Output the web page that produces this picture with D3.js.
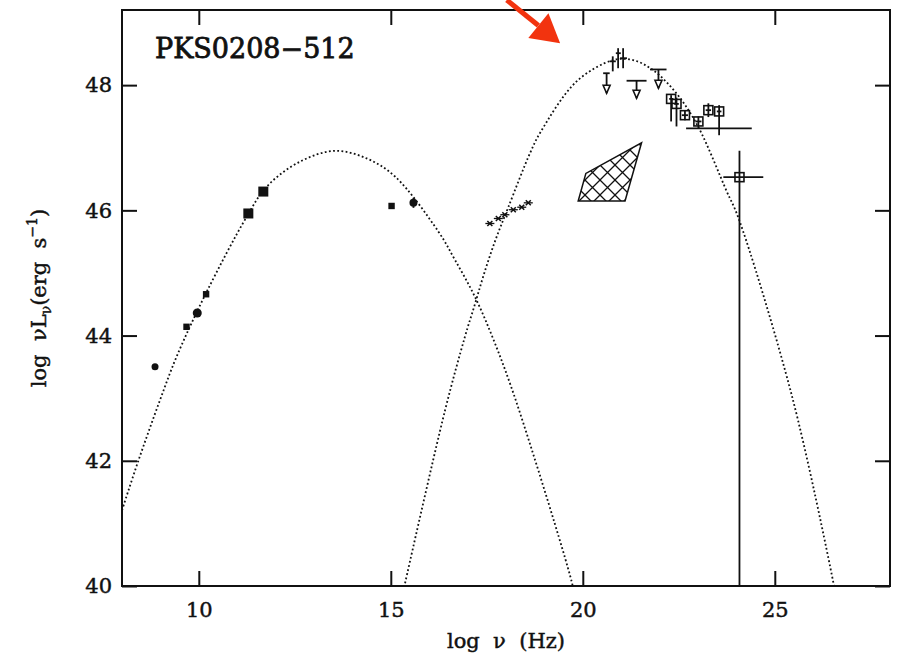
<!DOCTYPE html>
<html>
<head>
<meta charset="UTF-8">
<title>PKS0208-512</title>
<style>
    body { margin: 0; background: white; }
    svg text { font-family: "DejaVu Serif", serif; fill: #111; stroke: #111; stroke-width: 0.45px; }
    .lbl { white-space: pre; }
</style>
</head>
<body>
<svg width="907" height="654"></svg>
<script src="https://d3js.org/d3.v7.min.js"></script>
<script>
    // axis ticks, log nu (Hz) and log nuL_nu (erg/s)
    let xTicks = [10, 15, 20, 25]
    let yTicks = [40, 42, 44, 46, 48]

    // synchrotron model curve (dotted)
    let syncCurveNu = [8.0, 8.42, 8.99, 9.42, 10.19, 11.25, 11.77, 12.64, 13.55, 14.37, 15.11, 16.24, 16.67, 17.19, 17.71, 18.28, 19.71, 19.8]
    let syncCurveL = [41.21, 41.99, 42.97, 43.66, 44.68, 45.90, 46.38, 46.78, 46.95, 46.83, 46.54, 45.66, 45.21, 44.62, 43.88, 42.92, 40.07, 39.8]

    // inverse compton model curve (dotted)
    let icCurveNu = [15.3, 16.41, 16.93, 17.19, 17.41, 17.71, 18.06, 18.63, 18.89, 19.84, 20.79, 21.31, 21.83, 22.45, 23.0, 23.75, 24.04, 25.44, 26.52, 26.6]
    let icCurveL = [39.85, 42.80, 43.98, 44.50, 44.95, 45.50, 46.05, 46.92, 47.24, 48.06, 48.40, 48.40, 48.24, 47.86, 47.34, 46.30, 45.90, 43.05, 40.07, 39.8]

    // radio / IR / optical points
    let smallCircles = [[8.86, 43.50]]
    let bigCircles = [[9.96, 44.36]]
    let smallSquares = [[9.68, 44.14], [10.19, 44.66], [15.02, 46.07]]
    let bigSquares = [[11.29, 45.95], [11.68, 46.30]]
    // [nu, L, Llo, Lhi]
    let uvPoint = [[15.59, 46.12, 46.04, 46.20]]

    // X-ray spectrum
    let xrayNu = [17.58, 17.80, 17.97, 18.19, 18.41, 18.58]
    let xrayL = [45.79, 45.87, 45.93, 46.01, 46.05, 46.12]

    // COMPTEL hatched region
    let hatchNu = [19.88, 20.08, 21.53, 21.10]
    let hatchL = [46.15, 46.59, 47.08, 46.15]

    // gamma-ray detections [nu, L, nuLo, nuHi, Llo, Lhi]
    let gammaCrosses = [
        [20.78, 48.38, 20.70, 20.86, 48.22, 48.46],
        [20.92, 48.51, 20.86, 20.99, 48.27, 48.59],
        [21.05, 48.43, 20.97, 21.15, 48.27, 48.59]
    ]
    // upper limits [nu, L, nuLo, nuHi, Ltip]
    let upperLimits = [
        [20.62, 48.19, 20.53, 20.70, 47.87],
        [21.40, 48.07, 21.14, 21.66, 47.79],
        [21.97, 48.25, 21.75, 22.18, 47.95]
    ]
    // EGRET squares [nu, L, nuLo, nuHi, Llo, Lhi]
    let gammaSquares = [
        [22.30, 47.78, 22.25, 22.36, 47.42, 47.84],
        [22.44, 47.70, 22.38, 22.50, 47.34, 47.80],
        [22.66, 47.52, 22.58, 22.74, 47.44, 47.60],
        [23.01, 47.42, 22.93, 23.09, 47.32, 47.50],
        [23.27, 47.60, 23.20, 23.34, 47.49, 47.71],
        [23.55, 47.58, 23.49, 23.61, 47.20, 47.68],
        [24.08, 46.53, 23.66, 24.70, 39.5, 46.95]
    ]
    // wide band point, horizontal bar only [nu, L, nuLo, nuHi]
    let wideBand = [[23.55, 47.31, 22.69, 24.40]]

    // red annotation arrow [tail, tip]
    let arrowPts = [[18.02, 49.36], [19.41, 48.67]]

    let svg = d3.select("svg")
    let x = d3.scaleLinear().domain([8, 28]).range([122, 890])
    let y = d3.scaleLinear().domain([40, 49.2]).range([586, 10])

    svg.append("defs").append("clipPath").attr("id", "clip")
        .append("rect").attr("x", x(8)).attr("y", y(49.2))
        .attr("width", x(28) - x(8)).attr("height", y(40) - y(49.2))

    let hatch = svg.select("defs").append("pattern")
        .attr("id", "hatch").attr("patternUnits", "userSpaceOnUse")
        .attr("width", 15).attr("height", 15)
    hatch.append("path").attr("d", "M0,0L15,15M15,0L0,15M-1,14L1,16M14,-1L16,1")
        .attr("stroke", "#111").attr("stroke-width", 1.3)

    // minor tick values
    let xMinor = d3.range(9, 28).filter(v => !xTicks.includes(v))
    let yMinor = d3.range(1, 23).filter(i => i % 5 != 0).map(i => 40 + i * 0.4)

    function axis(gen, scale, major, minor, tr, labels) {
        let g = svg.append("g").attr("transform", tr)
        g.call(gen(scale).tickValues(minor).tickSizeInner(-6).tickSizeOuter(0).tickFormat(""))
        g.call(gen(scale).tickValues(major).tickSizeInner(-15).tickSizeOuter(0)
            .tickPadding(gen == d3.axisBottom ? 16 : 10)
            .tickFormat(labels ? d3.format("d") : ""))
        g.selectAll("line").attr("stroke-width", 2).attr("stroke", "#111")
        g.selectAll(".domain").remove()
        g.selectAll("text").style("font-size", "21px").attr("fill", "#111")
        return g
    }
    axis(d3.axisBottom, x, xTicks, xMinor, "translate(0," + y(40) + ")", true)
    axis(d3.axisTop, x, xTicks, xMinor, "translate(0," + y(49.2) + ")", false)
    axis(d3.axisLeft, y, yTicks, yMinor, "translate(" + x(8) + ",0)", true)
    axis(d3.axisRight, y, yTicks, yMinor, "translate(" + x(28) + ",0)", false)

    svg.append("rect")
        .attr("x", x(8)).attr("y", y(49.2))
        .attr("width", x(28) - x(8)).attr("height", y(40) - y(49.2))
        .attr("fill", "none").attr("stroke", "#111").attr("stroke-width", 2)

    let plot = svg.append("g").attr("clip-path", "url(#clip)")

    // model curves
    let line = d3.line().x(d => x(d[0])).y(d => y(d[1])).curve(d3.curveCatmullRom)
    let curves = [d3.zip(syncCurveNu, syncCurveL), d3.zip(icCurveNu, icCurveL)]
    plot.selectAll(".model").data(curves).enter().append("path")
        .attr("class", "model")
        .attr("d", line)
        .attr("fill", "none").attr("stroke", "#111")
        .attr("stroke-width", 1.8).attr("stroke-dasharray", "1.8 2.4")

    // hatched region
    plot.append("path")
        .attr("d", "M" + d3.zip(hatchNu, hatchL).map(d => x(d[0]) + "," + y(d[1])).join("L") + "Z")
        .attr("fill", "url(#hatch)").attr("stroke", "#111").attr("stroke-width", 1.5)

    // error bar helper
    function seg(g, x1, y1, x2, y2, w) {
        g.append("line").attr("x1", x1).attr("y1", y1).attr("x2", x2).attr("y2", y2)
            .attr("stroke", "#111").attr("stroke-width", w || 1.8)
    }

    // radio to optical points
    plot.selectAll(".sc").data(smallCircles).enter().append("circle")
        .attr("cx", d => x(d[0])).attr("cy", d => y(d[1])).attr("r", 3.5).attr("fill", "#111")
    plot.selectAll(".bc").data(bigCircles).enter().append("circle")
        .attr("cx", d => x(d[0])).attr("cy", d => y(d[1])).attr("r", 4.5).attr("fill", "#111")
    plot.selectAll(".ss").data(smallSquares).enter().append("rect")
        .attr("x", d => x(d[0]) - 3.2).attr("y", d => y(d[1]) - 3.2)
        .attr("width", 6.4).attr("height", 6.4).attr("fill", "#111")
    plot.selectAll(".bs").data(bigSquares).enter().append("rect")
        .attr("x", d => x(d[0]) - 5).attr("y", d => y(d[1]) - 5)
        .attr("width", 10).attr("height", 10).attr("fill", "#111")
    uvPoint.forEach(d => {
        seg(plot, x(d[0]), y(d[2]), x(d[0]), y(d[3]))
        plot.append("circle").attr("cx", x(d[0])).attr("cy", y(d[1])).attr("r", 4).attr("fill", "#111")
    })

    // x-ray points
    d3.zip(xrayNu, xrayL).forEach(d => {
        let px = x(d[0]), py = y(d[1])
        seg(plot, px - 2.5, py - 2.5, px + 2.5, py + 2.5, 1.5)
        seg(plot, px - 2.5, py + 2.5, px + 2.5, py - 2.5, 1.5)
        seg(plot, px - 4.5, py, px + 4.5, py, 1.3)
    })

    // gamma-ray crosses
    gammaCrosses.forEach(d => {
        seg(plot, x(d[2]), y(d[1]), x(d[3]), y(d[1]))
        seg(plot, x(d[0]), y(d[4]), x(d[0]), y(d[5]))
    })

    // upper limits
    upperLimits.forEach(d => {
        let px = x(d[0]), tip = y(d[4])
        seg(plot, x(d[2]), y(d[1]), x(d[3]), y(d[1]))
        seg(plot, px, y(d[1]), px, tip)
        plot.append("path")
            .attr("d", "M" + (px - 3.5) + "," + (tip - 8) + "L" + px + "," + tip + "L" + (px + 3.5) + "," + (tip - 8) + "Z")
            .attr("fill", "white").attr("stroke", "#111").attr("stroke-width", 1.6)
    })

    // wide band bar
    wideBand.forEach(d => seg(plot, x(d[2]), y(d[1]), x(d[3]), y(d[1])))

    // EGRET squares
    gammaSquares.forEach(d => {
        seg(plot, x(d[2]), y(d[1]), x(d[3]), y(d[1]))
        seg(plot, x(d[0]), y(d[4]), x(d[0]), y(d[5]))
        plot.append("rect").attr("x", x(d[0]) - 4.5).attr("y", y(d[1]) - 4.5)
            .attr("width", 9).attr("height", 9)
            .attr("fill", "none").attr("stroke", "#111").attr("stroke-width", 1.6)
    })

    // title
    svg.append("text").attr("x", 155).attr("y", 58)
        .style("font-size", "27px").style("stroke-width", "0.8px").text("PKS0208\u2212512")

    // axis labels
    svg.append("text").attr("class", "lbl")
        .attr("x", (x(8) + x(28)) / 2).attr("y", 648)
        .attr("text-anchor", "middle").style("font-size", "21px")
        .text("log  \u03bd  (Hz)")

    let yl = svg.append("text").attr("class", "lbl")
        .attr("transform", "translate(46," + (y(40) + y(49.2)) / 2 + ") rotate(-90)")
        .attr("text-anchor", "middle").style("font-size", "21px")
    yl.append("tspan").text("log  \u03bdL")
    yl.append("tspan").attr("dy", 5).style("font-size", "14px").text("\u03bd")
    yl.append("tspan").attr("dy", -5).text("(erg  s")
    yl.append("tspan").attr("dy", -9).style("font-size", "14px").text("\u22121")
    yl.append("tspan").attr("dy", 9).text(")")

    // red arrow annotation
    let tail = [x(arrowPts[0][0]), y(arrowPts[0][1])]
    let tip = [x(arrowPts[1][0]), y(arrowPts[1][1])]
    let dx = tip[0] - tail[0], dy = tip[1] - tail[1], len = Math.sqrt(dx * dx + dy * dy)
    let ux = dx / len, uy = dy / len
    let base = [tip[0] - 28 * ux, tip[1] - 28 * uy]
    svg.append("line").attr("x1", tail[0]).attr("y1", tail[1])
        .attr("x2", base[0]).attr("y2", base[1])
        .attr("stroke", "#f2330f").attr("stroke-width", 5)
    svg.append("path")
        .attr("d", "M" + tip[0] + "," + tip[1] +
            "L" + (base[0] - 16 * uy) + "," + (base[1] + 16 * ux) +
            "L" + (base[0] + 16 * uy) + "," + (base[1] - 16 * ux) + "Z")
        .attr("fill", "#f2330f")
</script>
</body>
</html>
